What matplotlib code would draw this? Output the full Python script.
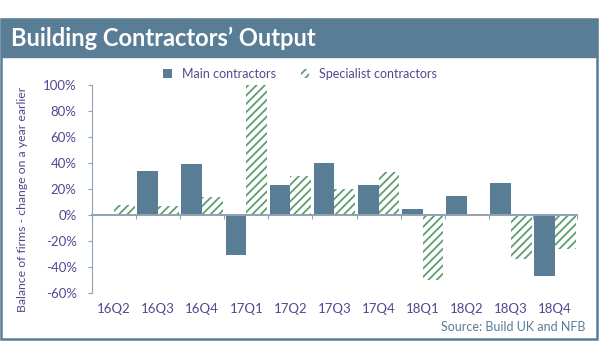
import matplotlib
matplotlib.use("Agg")
import matplotlib.pyplot as plt
from matplotlib.patches import Rectangle
import numpy as np

# data (balance of firms, %)
quarters = ["16Q2", "16Q3", "16Q4", "17Q1", "17Q2", "17Q3",
            "17Q4", "18Q1", "18Q2", "18Q3", "18Q4"]
main_contractors = [0, 34, 39, -31, 23, 40, 23, 5, 15, 25, -47]
specialist_contractors = [8, 7, 14, 100, 30, 20, 33, -50, 0, -34, -26]
y_ticks = [-60, -40, -20, 0, 20, 40, 60, 80, 100]

BLUE = "#5a7d96"
GREEN = "#5f9e72"
TEXT = "#4d4b8f"

plt.rcParams["font.family"] = ["Lato", "DejaVu Sans"]
plt.rcParams["hatch.linewidth"] = 1.3

fig = plt.figure(figsize=(6.0, 3.62), dpi=100)

# outer frame and title banner
fig.patches.append(Rectangle((0.002, 0.064), 0.993, 0.884, transform=fig.transFigure,
                             facecolor="white", edgecolor=BLUE, linewidth=1.8, zorder=-2))
fig.patches.append(Rectangle((0.002, 0.843), 0.993, 0.105, transform=fig.transFigure,
                             facecolor=BLUE, edgecolor=BLUE, linewidth=1.0, zorder=-1))
fig.text(0.018, 0.893, "Building Contractors\u2019 Output", color="white",
         fontsize=17, fontweight="bold", va="center", ha="left")

ax = fig.add_axes([0.1533, 0.1906, 0.8083, 0.5746])
ax.set_zorder(2)
ax.patch.set_visible(False)
x = np.arange(len(quarters))
w = 0.47
ax.bar(x - w / 2, main_contractors, width=w, color=BLUE, linewidth=0,
       label="Main contractors", zorder=2)
ax.bar(x + w / 2, specialist_contractors, width=w, facecolor="white",
       edgecolor=GREEN, hatch="////", linewidth=0,
       label="Specialist contractors", zorder=2)

ax.set_xlim(-0.5, len(quarters) - 0.5)
ax.set_ylim(-60, 100)
ax.set_yticks(y_ticks)
ax.set_yticklabels([f"{v}%" for v in y_ticks])

for s in ["top", "right"]:
    ax.spines[s].set_visible(False)
ax.spines["left"].set_color("#8fa3b3")
ax.spines["bottom"].set_position(("data", 0))
ax.spines["bottom"].set_color("#8fa3b3")
ax.spines["bottom"].set_linewidth(1.4)
ax.spines["bottom"].set_zorder(3)

ax.set_xticks(np.arange(len(quarters) + 1) - 0.5)
ax.set_xticklabels([])
ax.tick_params(axis="x", length=3, color="#8fa3b3", direction="out")
ax.tick_params(axis="y", length=3, color="#8fa3b3", labelcolor=TEXT,
               labelsize=9.5, pad=8)

for i, q in enumerate(quarters):
    ax.text(i, -0.077, q, transform=ax.get_xaxis_transform(), ha="center",
            va="center", color=TEXT, fontsize=9.5)

fig.text(0.037, 0.45, "Balance of firms - change on a year earlier", rotation=90,
         color=TEXT, fontsize=8.8, ha="center", va="center")

fig.legend(loc="center", bbox_to_anchor=(0.5, 0.795), ncol=2, frameon=False,
           fontsize=9, labelcolor=TEXT, handlelength=0.7, handleheight=0.7,
           handletextpad=0.8, columnspacing=2.0)

fig.text(0.975, 0.097, "Source: Build UK and NFB", color=BLUE, fontsize=9,
         ha="right", va="center")

fig.savefig("out.png", dpi=100)
